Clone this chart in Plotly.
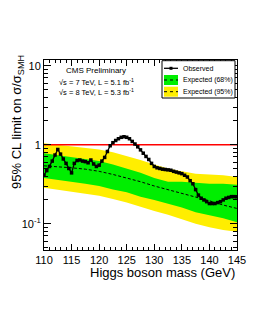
import plotly.graph_objects as go

# Observed limit
obs_mass = [110.0, 110.5, 111.0, 111.5, 112.0, 112.5, 113.0, 113.5, 114.0, 114.5,
            115.0, 115.5, 116.0, 116.5, 117.0, 117.5, 118.0, 118.5, 119.0, 119.5,
            120.0, 120.5, 121.0, 121.5, 122.0, 122.5, 123.0, 123.5, 124.0, 124.5,
            125.0, 125.5, 126.0, 126.5, 127.0, 127.5, 128.0, 128.5, 129.0, 129.5,
            130.0, 130.5, 131.0, 131.5, 132.0, 132.5, 133.0, 133.5, 134.0, 134.5,
            135.0, 135.5, 136.0, 136.5, 137.0, 137.5, 138.0, 138.5, 139.0, 139.5,
            140.0, 140.5, 141.0, 141.5, 142.0, 142.5, 143.0, 143.5, 144.0, 144.5, 145.0]
obs_limit = [0.41, 0.47, 0.53, 0.62, 0.74, 0.87, 0.76, 0.66, 0.58, 0.50,
             0.44, 0.58, 0.63, 0.64, 0.62, 0.61, 0.59, 0.64, 0.57, 0.53,
             0.55, 0.62, 0.69, 0.82, 0.97, 1.06, 1.13, 1.19, 1.24, 1.26,
             1.24, 1.19, 1.10, 1.02, 0.94, 0.86, 0.78, 0.71, 0.65, 0.58,
             0.53, 0.51, 0.50, 0.49, 0.485, 0.48, 0.475, 0.46, 0.45, 0.44,
             0.43, 0.41, 0.39, 0.35, 0.32, 0.27, 0.23, 0.21, 0.20, 0.19,
             0.18, 0.18, 0.18, 0.185, 0.19, 0.20, 0.21, 0.215, 0.22, 0.22, 0.22]

# Expected limit and bands
exp_mass = [110, 112.5, 115, 117.5, 120, 122.5, 125, 127.5, 130, 132.5, 135, 137.5, 140, 142.5, 145]
exp_95_hi = [1.04, 1.00, 0.96, 0.92, 0.87, 0.80, 0.72, 0.64, 0.56, 0.50, 0.46, 0.43, 0.42, 0.41, 0.39]
exp_68_hi = [0.78, 0.74, 0.70, 0.66, 0.62, 0.56, 0.50, 0.44, 0.38, 0.34, 0.34, 0.33, 0.32, 0.32, 0.31]
exp_median = [0.54, 0.53, 0.51, 0.49, 0.46, 0.42, 0.38, 0.34, 0.30, 0.27, 0.24, 0.22, 0.195, 0.172, 0.156]
exp_68_lo = [0.38, 0.36, 0.34, 0.32, 0.30, 0.27, 0.25, 0.22, 0.20, 0.18, 0.16, 0.14, 0.128, 0.117, 0.104]
exp_95_lo = [0.286, 0.27, 0.255, 0.24, 0.225, 0.205, 0.185, 0.165, 0.145, 0.13, 0.115, 0.10, 0.09, 0.083, 0.079]

sm_mass = [110, 145]
sm_line = [1, 1]

x_ticks = [110, 115, 120, 125, 130, 135, 140, 145]
y_ticks = [0.1, 1, 10]
y_ticktext = ["10<sup>-1</sup>", "1", "10"]
legend_labels = ["Observed", "Expected (68%)", "Expected (95%)"]

YELLOW = "#ffee00"
GREEN = "#00ee00"
FONT = "Liberation Sans, Arial, sans-serif"

fig = go.Figure()
fig.add_trace(go.Scatter(x=exp_mass + exp_mass[::-1], y=exp_95_hi + exp_95_lo[::-1],
                         fill="toself", fillcolor=YELLOW, line=dict(width=0), mode="lines",
                         hoverinfo="skip", showlegend=False))
fig.add_trace(go.Scatter(x=exp_mass + exp_mass[::-1], y=exp_68_hi + exp_68_lo[::-1],
                         fill="toself", fillcolor=GREEN, line=dict(width=0), mode="lines",
                         hoverinfo="skip", showlegend=False))
fig.add_trace(go.Scatter(x=exp_mass, y=exp_median, mode="lines",
                         line=dict(color="black", width=1, dash="3px,2px"), showlegend=False))
fig.add_trace(go.Scatter(x=sm_mass, y=sm_line, mode="lines",
                         line=dict(color="red", width=1.5), showlegend=False))
fig.add_trace(go.Scatter(x=obs_mass, y=obs_limit, mode="lines+markers",
                         line=dict(color="black", width=1.3),
                         marker=dict(symbol="square", size=3.5, color="black"),
                         showlegend=False))

minor_y = [v * m for m in (0.01, 0.1, 1) for v in range(2, 10)]
minor_y = [v for v in minor_y if v >= 0.045]

fig.update_xaxes(range=[110, 145], tickvals=x_ticks, ticks="inside", ticklen=6,
                 showline=True, linecolor="black", linewidth=1, mirror="allticks",
                 showgrid=False, zeroline=False, tickcolor="black",
                 tickfont=dict(family=FONT, size=11, color="black"),
                 minor=dict(dtick=1, ticks="inside", ticklen=3, tickcolor="black", showgrid=False))
fig.update_yaxes(type="log", range=[-1.333, 1.072], tickvals=y_ticks, ticktext=y_ticktext,
                 ticks="inside", ticklen=7, showline=True, linecolor="black", linewidth=1,
                 mirror="allticks", showgrid=False, zeroline=False, tickcolor="black",
                 tickfont=dict(family=FONT, size=11, color="black"),
                 minor=dict(tickvals=minor_y, ticks="inside", ticklen=4, tickcolor="black", showgrid=False))

# pixel -> paper helpers (plot area on screen: x 44..237, y 60..250)
def px(X):
    return (X - 44) / 193.0

def py(Y):
    return (250 - Y) / 190.0

shapes = []
annotations = []
# legend box
shapes.append(dict(type="rect", xref="paper", yref="paper", x0=px(162), x1=px(235),
                   y0=py(98), y1=py(60.7), line=dict(color="black", width=1), fillcolor="white", layer="above"))
# observed symbol
shapes.append(dict(type="line", xref="paper", yref="paper", x0=px(164), x1=px(178),
                   y0=py(68.3), y1=py(68.3), line=dict(color="black", width=1.3), layer="above"))
shapes.append(dict(type="rect", xref="paper", yref="paper", x0=px(169.5), x1=px(172.5),
                   y0=py(69.8), y1=py(66.8), line=dict(width=0), fillcolor="black", layer="above"))
# band symbols
for (yc, col) in ((80, GREEN), (91.7, YELLOW)):
    shapes.append(dict(type="rect", xref="paper", yref="paper", x0=px(164), x1=px(178),
                       y0=py(yc + 5), y1=py(yc - 5), line=dict(width=0), fillcolor=col, layer="above"))
    shapes.append(dict(type="line", xref="paper", yref="paper", x0=px(164), x1=px(178),
                       y0=py(yc), y1=py(yc), line=dict(color="black", width=1, dash="dot"), layer="above"))
for lbl, yc in zip(legend_labels, (68.3, 80, 91.7)):
    annotations.append(dict(xref="paper", yref="paper", x=px(180.5), y=py(yc), text=lbl,
                            showarrow=False, xanchor="left", yanchor="middle",
                            font=dict(family=FONT, size=7, color="black")))

annotations.append(dict(xref="paper", yref="paper", x=px(96), y=py(71), text="CMS Preliminary",
                        showarrow=False, xanchor="center", yanchor="middle",
                        font=dict(family=FONT, size=8, color="black")))
annotations.append(dict(xref="paper", yref="paper", x=px(96), y=py(82), text="√s = 7 TeV, L = 5.1 fb<sup>-1</sup>",
                        showarrow=False, xanchor="center", yanchor="middle",
                        font=dict(family=FONT, size=7.5, color="black")))
annotations.append(dict(xref="paper", yref="paper", x=px(96), y=py(92), text="√s = 8 TeV, L = 5.3 fb<sup>-1</sup>",
                        showarrow=False, xanchor="center", yanchor="middle",
                        font=dict(family=FONT, size=7.5, color="black")))
# axis titles
annotations.append(dict(xref="paper", yref="paper", x=1.0, y=py(272), text="Higgs boson mass (GeV)",
                        showarrow=False, xanchor="right", yanchor="middle",
                        font=dict(family=FONT, size=13, color="black")))
annotations.append(dict(xref="paper", yref="paper", x=px(17), y=py(53), textangle=-90,
                        text="95% CL limit on σ/σ<sub>SMH</sub>",
                        showarrow=False, xanchor="center", yanchor="top",
                        font=dict(family=FONT, size=13, color="black")))

# the page body adds an 8px offset; margins compensate so the plot area lands at x 44..237, y 60..250
fig.update_layout(width=255, height=330, margin=dict(l=36, r=26, t=52, b=88),
                  paper_bgcolor="white", plot_bgcolor="white", showlegend=False,
                  shapes=shapes, annotations=annotations,
                  font=dict(family=FONT, color="black"))

fig.write_html("out.html")
